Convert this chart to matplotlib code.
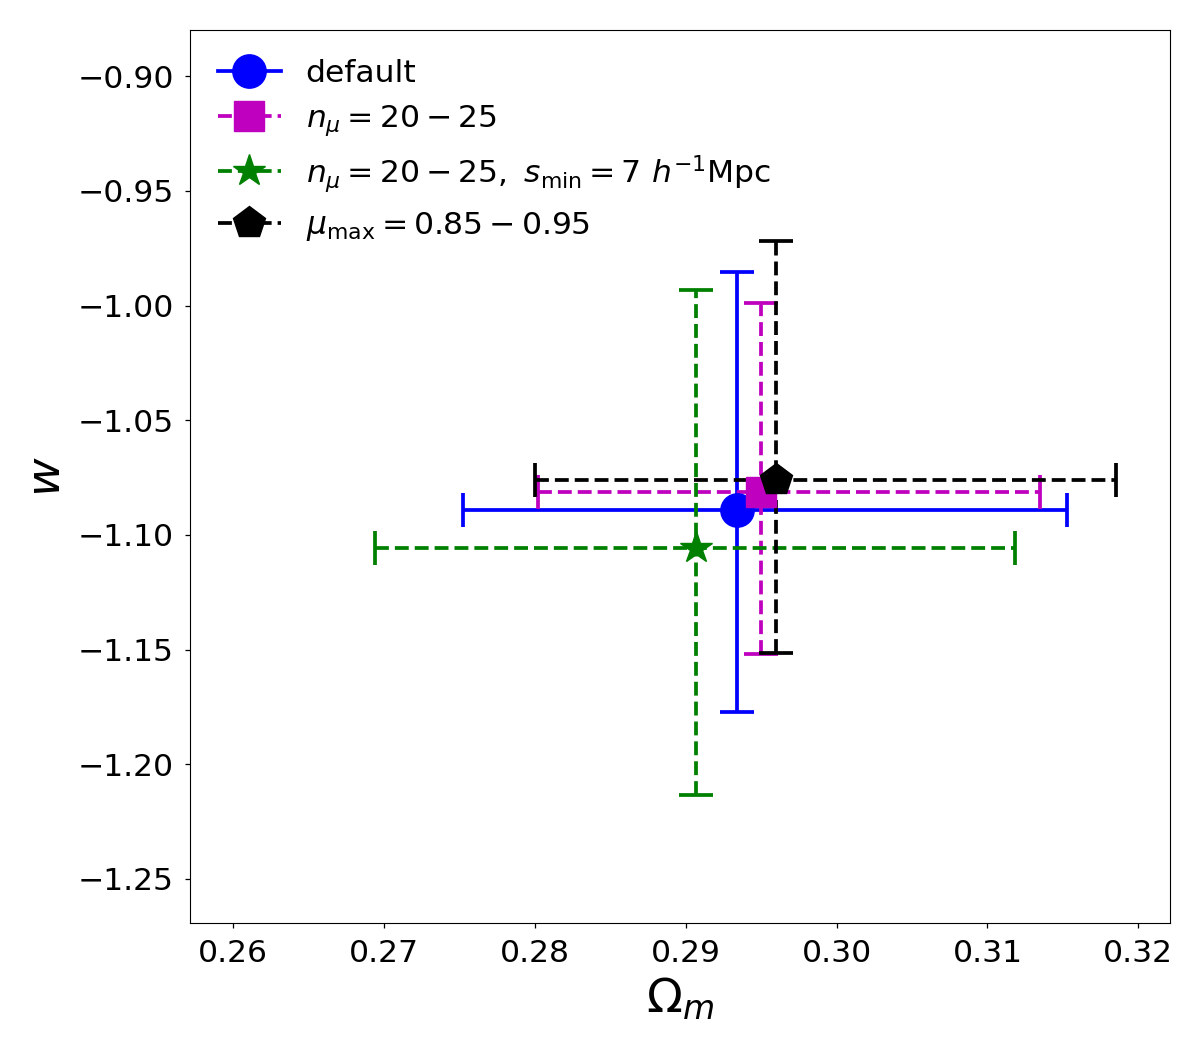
import matplotlib
matplotlib.use("Agg")
import matplotlib.pyplot as plt
from matplotlib.lines import Line2D

labels = ["default", r"$n_\mu=20-25$", r"$n_\mu=20-25,\ s_{\rm min}=7\ h^{-1}{\rm Mpc}$", r"$\mu_{\rm max}=0.85-0.95$"]
om = [0.2934, 0.2950, 0.2907, 0.2960]
om_lo = [0.2752, 0.2802, 0.2694, 0.2800]
om_hi = [0.3153, 0.3135, 0.3118, 0.3185]
w = [-1.0892, -1.0813, -1.1058, -1.0761]
w_lo = [-1.1772, -1.1520, -1.2134, -1.1515]
w_hi = [-0.9854, -0.9990, -0.9933, -0.9719]
colors = ["b", "m", "g", "k"]
markers = ["o", "s", "*", "p"]
styles = ["-", "--", "--", "--"]
msizes = [24, 22, 24, 24]

S = 1.13
LW = 2.7
fig, ax = plt.subplots(figsize=(12, 10.5), dpi=100)
handles = []
for i in range(len(om)):
    xerr = [[om[i] - om_lo[i]], [om_hi[i] - om[i]]]
    yerr = [[w[i] - w_lo[i]], [w_hi[i] - w[i]]]
    eb = ax.errorbar([om[i]], [w[i]], xerr=xerr, yerr=yerr, color=colors[i], marker=markers[i],
                     ms=msizes[i], capsize=12.5, elinewidth=LW, capthick=LW, lw=LW)
    eb[-1][0].set_linestyle(styles[i])
    eb[-1][1].set_linestyle(styles[i])
    handles.append(Line2D([], [], color=colors[i], marker=markers[i], ms=msizes[i],
                          lw=LW, ls=styles[i], label=labels[i]))

ax.set_xlim(0.2571, 0.3221)
ax.set_ylim(-1.2692, -0.880)
ax.set_xticks([0.26, 0.27, 0.28, 0.29, 0.30, 0.31, 0.32])
ax.set_yticks([-0.90, -0.95, -1.00, -1.05, -1.10, -1.15, -1.20, -1.25])
ax.tick_params(labelsize=20 * S, length=3.5 * S, width=0.8 * S, pad=7.5)
ax.set_xlabel(r"$\Omega_m$", fontsize=30 * S, labelpad=4 * S + 1)
ax.set_ylabel(r"$w$", fontsize=30 * S, labelpad=4 * S + 1)
ax.legend(handles=handles, fontsize=20 * S, frameon=False, loc="upper left")
fig.subplots_adjust(left=0.158, right=0.975, top=0.971, bottom=0.121)
fig.savefig("out.png")
